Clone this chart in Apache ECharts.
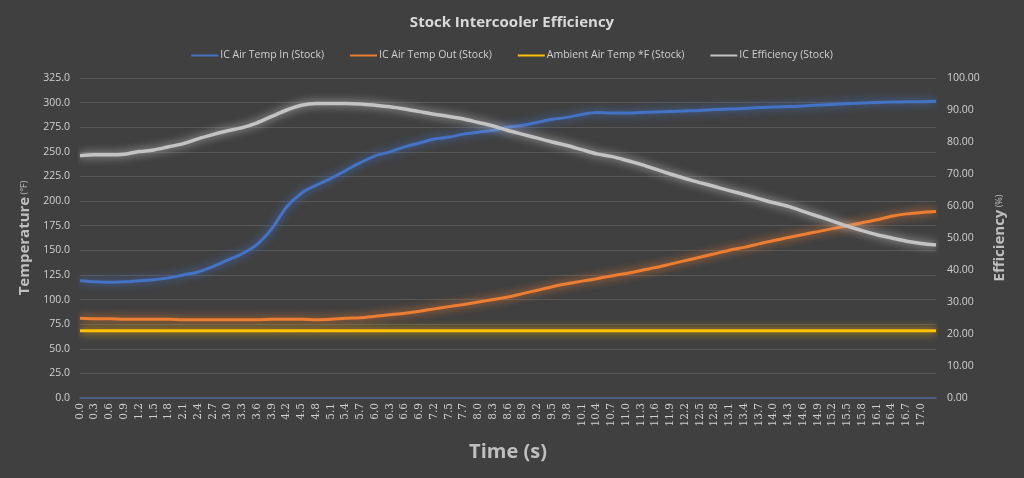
<!DOCTYPE html>
<html>
<head>
<meta charset="utf-8">
<style>
  html, body { margin: 0; padding: 0; background: #404040; }
  #chart { width: 1024px; height: 478px; }
</style>
<script src="https://cdn.jsdelivr.net/npm/echarts@6/dist/echarts.min.js"></script>
</head>
<body>
<div id="chart"></div>
<script>
// time labels (s); last category is the final logged sample, unlabelled
var times = ['0.0', '0.3', '0.6', '0.9', '1.2', '1.5', '1.8', '2.1', '2.4', '2.7',
    '3.0', '3.3', '3.6', '3.9', '4.2', '4.5', '4.8', '5.1', '5.4', '5.7',
    '6.0', '6.3', '6.6', '6.9', '7.2', '7.5', '7.7', '8.0', '8.3', '8.6',
    '8.9', '9.2', '9.5', '9.8', '10.1', '10.4', '10.7', '11.0', '11.3', '11.6',
    '11.9', '12.2', '12.5', '12.8', '13.1', '13.4', '13.7', '14.0', '14.3', '14.6',
    '14.9', '15.2', '15.5', '15.8', '16.1', '16.4', '16.7', '17.0', ''];

var tempIn = [119, 118, 117.5, 118, 119, 120, 122, 125, 128, 133.5,
    140, 146.5, 156, 172, 194, 208, 216, 223, 231, 239,
    246, 250, 255, 259, 263, 265, 268, 270, 272, 275,
    277, 280, 283, 285, 288, 290, 289.5, 289.5, 290, 290.5,
    291, 291.5, 292, 293, 293.5, 294, 295, 295.5, 296, 296.5,
    297.5, 298, 299, 299.5, 300, 300.5, 301, 301, 301.5];

var tempOut = [81, 80.5, 80.5, 80, 80, 80, 80, 79.5, 79.5, 79.5,
    79.5, 79.5, 79.5, 80, 80, 80, 79.5, 80, 81, 81.6,
    83, 84.5, 86, 88.2, 90.5, 92.8, 95, 97.5, 100, 102.5,
    106, 109.5, 113, 116, 118.7, 121.2, 124, 126.5, 129.5, 132.5,
    136, 139.5, 143, 146.5, 150, 153, 156.5, 160, 163, 166,
    169, 172, 175, 178, 181, 184.5, 187, 188.5, 189.5];

var ambient = [68.4, 68.4, 68.4, 68.4, 68.4, 68.4, 68.4, 68.4, 68.4, 68.4,
    68.4, 68.4, 68.4, 68.4, 68.4, 68.4, 68.4, 68.4, 68.4, 68.4,
    68.4, 68.4, 68.4, 68.4, 68.4, 68.4, 68.4, 68.4, 68.4, 68.4,
    68.4, 68.4, 68.4, 68.4, 68.4, 68.4, 68.4, 68.4, 68.4, 68.4,
    68.4, 68.4, 68.4, 68.4, 68.4, 68.4, 68.4, 68.4, 68.4, 68.4,
    68.4, 68.4, 68.4, 68.4, 68.4, 68.4, 68.4, 68.4, 68.4];

var efficiency = [75.7, 76, 76, 76.2, 77, 77.5, 78.5, 79.5, 81, 82.3,
    83.5, 84.5, 86, 88, 90, 91.5, 92, 92, 92, 91.9,
    91.5, 91, 90.3, 89.5, 88.7, 88, 87.2, 86.1, 85, 83.6,
    82.4, 81.2, 80, 78.9, 77.6, 76.3, 75.5, 74.3, 73, 71.5,
    70, 68.6, 67.3, 66.1, 64.8, 63.6, 62.3, 61, 59.9, 58.3,
    56.8, 55.3, 53.7, 52.3, 51, 50, 49, 48.3, 47.8];

var textColor = '#d0d0d0';
var nameColor = '#bfbfbf';

function lineSeries(name, data, color, axis, width) {
    return {
        name: name,
        type: 'line',
        yAxisIndex: axis,
        data: data,
        symbol: 'none',
        smooth: 0.3,
        lineStyle: {
            color: color,
            width: width,
            shadowColor: color,
            shadowBlur: 8
        },
        itemStyle: {color: color}
    };
}

var myChart = echarts.init(document.getElementById('chart'));
myChart.setOption({
    backgroundColor: '#404040',
    animation: false,
    title: {
        text: 'Stock Intercooler Efficiency',
        left: 'center',
        top: 10,
        textStyle: {
            color: '#d9d9d9',
            fontFamily: 'Open Sans',
            fontWeight: 'bold',
            fontSize: 15
        }
    },
    legend: {
        top: 45,
        left: 'center',
        itemWidth: 27,
        itemHeight: 2,
        itemGap: 26,
        icon: 'rect',
        textStyle: {
            color: textColor,
            fontFamily: 'Open Sans',
            fontSize: 10.5,
            padding: [0, 0, 0, -3]
        },
        data: ['IC Air Temp In (Stock)', 'IC Air Temp Out (Stock)',
            'Ambient Air Temp *F (Stock)', 'IC Efficiency (Stock)']
    },
    grid: {
        left: 80,
        right: 88,
        top: 78,
        bottom: 80
    },
    xAxis: {
        type: 'category',
        boundaryGap: false,
        data: times,
        name: 'Time (s)',
        nameLocation: 'middle',
        nameGap: 44,
        nameTextStyle: {
            color: nameColor,
            fontFamily: 'Open Sans',
            fontWeight: 'bold',
            fontSize: 20
        },
        axisLine: {lineStyle: {color: '#4d6696', width: 1.5}},
        axisTick: {show: false},
        axisLabel: {
            interval: 0,
            rotate: 90,
            margin: 5,
            color: textColor,
            fontFamily: 'DejaVu Serif',
            fontSize: 10.5
        },
        splitLine: {show: false}
    },
    yAxis: [
        {
            type: 'value',
            min: 0,
            max: 325,
            interval: 25,
            name: '{b|Temperature}{s| (°F)}',
            nameLocation: 'middle',
            nameGap: 48,
            nameRotate: 90,
            nameTextStyle: {
                rich: {
                    b: {color: nameColor, fontFamily: 'Open Sans', fontWeight: 'bold', fontSize: 15},
                    s: {color: nameColor, fontFamily: 'Open Sans', fontSize: 9}
                }
            },
            axisLine: {show: false},
            axisTick: {show: false},
            axisLabel: {
                color: textColor,
                fontFamily: 'Open Sans',
                fontSize: 10.5,
                margin: 10,
                formatter: function (v) { return v.toFixed(1); }
            },
            splitLine: {lineStyle: {color: '#575757', width: 1}}
        },
        {
            type: 'value',
            min: 0,
            max: 100,
            interval: 10,
            name: '{b|Efficiency}{s| (%)}',
            nameLocation: 'middle',
            nameGap: 56,
            nameRotate: 90,
            nameTextStyle: {
                rich: {
                    b: {color: nameColor, fontFamily: 'Open Sans', fontWeight: 'bold', fontSize: 15},
                    s: {color: nameColor, fontFamily: 'Open Sans', fontSize: 9}
                }
            },
            axisLine: {show: false},
            axisTick: {show: false},
            axisLabel: {
                color: textColor,
                fontFamily: 'Open Sans',
                fontSize: 10.5,
                margin: 11,
                formatter: function (v) { return v.toFixed(2); }
            },
            splitLine: {show: false}
        }
    ],
    series: [
        lineSeries('IC Air Temp In (Stock)', tempIn, '#4472c4', 0, 3),
        lineSeries('IC Air Temp Out (Stock)', tempOut, '#ed7d31', 0, 3),
        lineSeries('Ambient Air Temp *F (Stock)', ambient, '#ffc000', 0, 3),
        lineSeries('IC Efficiency (Stock)', efficiency, '#c3c3c3', 1, 3.5)
    ]
});
</script>
</body>
</html>
